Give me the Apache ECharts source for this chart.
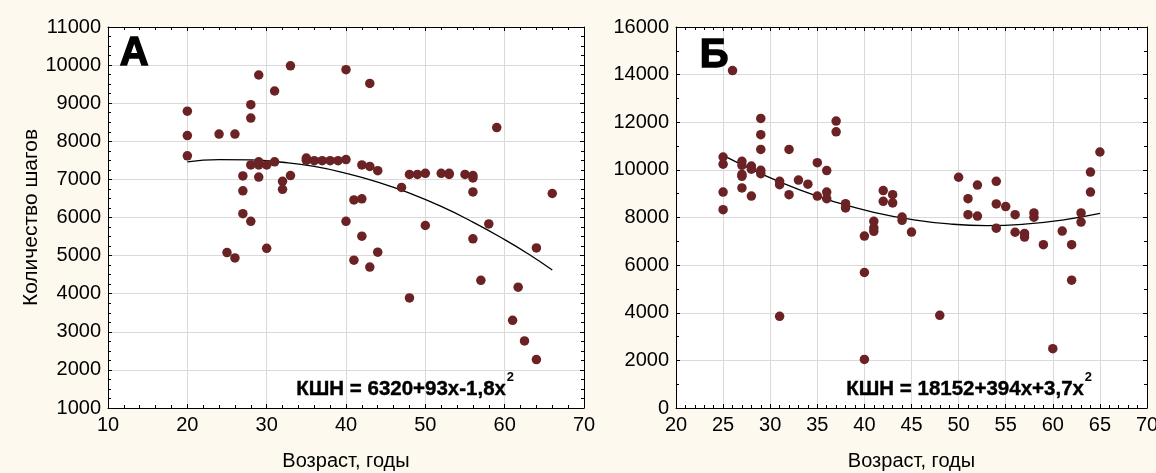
<!DOCTYPE html>
<html>
<head>
<meta charset="utf-8">
<script src="https://cdn.jsdelivr.net/npm/echarts@6/dist/echarts.min.js"></script>
<style>
  html, body { margin: 0; padding: 0; background: #fdf9ee; }
  #chart { width: 1156px; height: 473px; }
</style>
</head>
<body>
<div id="chart"></div>
<script>
// Panel А: age (years) vs daily step count
const agesA = [20, 20, 20, 24, 26, 29, 28, 28, 33, 31, 40, 28, 29, 29, 30, 31, 27, 29, 33, 32,
  32, 27, 27, 28, 40, 35, 35, 36, 37, 38, 39, 40, 43, 59, 42, 43, 44, 48, 49, 50,
  52, 53, 53, 55, 56, 56, 56, 47, 41, 42, 66, 25, 26, 30, 50, 58, 56, 64, 42, 41,
  44, 43, 48, 57, 61.7, 61, 62.5, 64];
const stepsA = [8790, 8150, 7620, 8190, 8190, 9740, 8960, 8610, 9980, 9320, 9880, 7380, 7380, 7460, 7380, 7460, 7090, 7060, 7100, 6950,
  6740, 6700, 6100, 5900, 5900, 7560, 7500, 7490, 7490, 7490, 7490, 7520, 9520, 8360, 7380, 7340, 7230, 7130, 7130, 7160,
  7160, 7160, 7130, 7130, 7100, 7040, 6670, 6790, 6460, 6490, 6630, 5080, 4940, 5190, 5790, 5830, 5440, 5200, 5510, 4880,
  5090, 4700, 3890, 4350, 4170, 3300, 2760, 2270];
// Fitted trend for panel А (КШН = 6320+93x-1,8x²), sampled along the curve
const fitAgesA = [20, 24, 28, 32, 36, 40, 44, 48, 52, 56, 60, 63, 66];
const fitStepsA = [7460, 7520, 7510, 7450, 7340, 7160, 6930, 6640, 6290, 5880, 5420, 5040, 4620];

// Panel Б
const agesB = [26, 29, 29, 29, 29, 29, 25, 25, 25, 25, 27, 27, 27, 27, 27, 28, 28, 28, 32, 31,
  31, 32, 33, 34, 35, 35, 36, 36, 36, 37, 37, 38, 38, 42, 42, 43, 43, 44, 44, 45,
  41, 41, 41, 40, 40, 40, 31, 50, 52, 54, 51, 54, 55, 65, 64, 64, 51, 52, 56, 58,
  58, 63, 63, 54, 56, 57, 57, 59, 61, 62, 62, 48, 60];
const stepsB = [14170, 12160, 11480, 10860, 9980, 9840, 10540, 10240, 9070, 8330, 10360, 10190, 9810, 9730, 9240, 10160, 10030, 8900, 10860, 9520,
  9380, 8960, 9570, 9400, 10300, 8900, 9970, 9070, 8790, 12050, 11600, 8580, 8400, 9130, 8680, 8960, 8610, 8020, 7880, 7390,
  7840, 7560, 7420, 7220, 5690, 2040, 3850, 9690, 9360, 9520, 8790, 8570, 8460, 10750, 9910, 9070, 8120, 8060, 8120, 8190,
  8010, 8190, 7810, 7550, 7380, 7330, 7180, 6860, 7430, 6860, 5370, 3890, 2490];
const fitAgesB = [25, 29, 33, 37, 41, 45, 49, 53, 57, 61, 65];
const fitStepsB = [10610, 9840, 9180, 8640, 8220, 7920, 7730, 7660, 7720, 7890, 8170];

const panelLetters = ['А', 'Б'];
const equationsMain = ['КШН = 6320+93x-1,8x', 'КШН = 18152+394x+3,7x'];
const equationPower = '2';
const xTitle = 'Возраст, годы';
const yTitle = 'Количество шагов';

const FONT = '"Liberation Sans", Arial, sans-serif';
const INK = '#000';
const DOT = '#6b2224';
const GRIDLINE = '#dadada';

const zip = (xs, ys) => xs.map((x, i) => [x, ys[i]]);
const plain = v => String(v);

function mainAxis(gridIndex, pos, min, max, interval, minorSplit, extra) {
  return Object.assign({
    type: 'value', gridIndex, position: pos, min, max, interval,
    axisLine: { show: true, onZero: false, lineStyle: { color: INK, width: 1 } },
    axisTick: { show: true, inside: true, length: 4, lineStyle: { color: INK } },
    minorTick: { show: true, splitNumber: minorSplit, length: 3, lineStyle: { color: INK } },
    splitLine: { show: true, lineStyle: { color: GRIDLINE, width: 1 } },
    axisLabel: {
      color: INK, fontSize: 20, fontFamily: FONT, margin: 7, formatter: plain,
      showMinLabel: true, showMaxLabel: true, hideOverlap: false,
    },
  }, extra || {});
}
function frameAxis(gridIndex, pos, min, max, interval, minorSplit) {
  return {
    type: 'value', gridIndex, position: pos, min, max, interval,
    axisLine: { show: true, onZero: false, lineStyle: { color: INK, width: 1 } },
    axisTick: { show: true, inside: true, length: 4, lineStyle: { color: INK } },
    minorTick: { show: true, splitNumber: minorSplit, length: 3, lineStyle: { color: INK } },
    splitLine: { show: false },
    axisLabel: { show: false },
  };
}
const xName = {
  name: xTitle, nameLocation: 'middle', nameGap: 43,
  nameTextStyle: { color: INK, fontSize: 20, fontFamily: FONT },
};

const grids = [
  { left: 108, right: 572, top: 27, bottom: 65 },
  { left: 676, right: 9, top: 27, bottom: 65 },
].map(g => Object.assign(g, { show: true, backgroundColor: '#ffffff', borderWidth: 0, containLabel: false, outerBoundsMode: 'none' }));

const xAxes = [
  mainAxis(0, 'bottom', 10, 70, 10, 5, xName),
  frameAxis(0, 'top', 10, 70, 10, 5),
  mainAxis(1, 'bottom', 20, 70, 5, 5, xName),
  frameAxis(1, 'top', 20, 70, 5, 5),
];
const yAxes = [
  mainAxis(0, 'left', 1000, 11000, 1000, 4, {
    name: yTitle, nameLocation: 'middle', nameGap: 66,
    nameTextStyle: { color: INK, fontSize: 21, fontFamily: FONT },
  }),
  frameAxis(0, 'right', 1000, 11000, 1000, 4),
  mainAxis(1, 'left', 0, 16000, 2000, 2),
  frameAxis(1, 'right', 0, 16000, 2000, 2),
];

function fitSeries(xIdx, yIdx, xs, ys) {
  return {
    type: 'line', xAxisIndex: xIdx, yAxisIndex: yIdx, data: zip(xs, ys),
    smooth: true, showSymbol: false, symbol: 'none', silent: true, z: 2,
    lineStyle: { color: INK, width: 1.3 },
  };
}
function dotSeries(xIdx, yIdx, xs, ys) {
  return {
    type: 'scatter', xAxisIndex: xIdx, yAxisIndex: yIdx, data: zip(xs, ys),
    symbol: 'circle', symbolSize: 9.5, z: 3,
    itemStyle: { color: DOT, opacity: 1 },
  };
}

// Equation labels: main text plus a raised exponent placed after it
const eqFont = 'bold 20.5px ' + FONT;
const measureCtx = document.createElement('canvas').getContext('2d');
measureCtx.font = eqFont;
const eqLeft = [296, 846];
const eqGraphics = [];
equationsMain.forEach((txt, i) => {
  const w = measureCtx.measureText(txt).width;
  eqGraphics.push({
    type: 'text', left: eqLeft[i], top: 379, z: 10,
    style: { text: txt, font: eqFont, fill: INK, stroke: INK, lineWidth: 0.4 },
  });
  eqGraphics.push({
    type: 'text', left: eqLeft[i] + w + 1, top: 371, z: 10,
    style: { text: equationPower, font: 'bold 13px ' + FONT, fill: INK },
  });
});

const letterPos = [[119, 33], [699, 35]];
const letterGraphics = panelLetters.map((t, i) => ({
  type: 'text', left: letterPos[i][0], top: letterPos[i][1], z: 10,
  style: { text: t, font: 'bold 40px ' + FONT, fill: INK, stroke: INK, lineWidth: 1.4 },
}));

const chart = echarts.init(document.getElementById('chart'), null, { renderer: 'canvas' });
chart.setOption({
  backgroundColor: '#fdf9ee',
  animation: false,
  grid: grids,
  xAxis: xAxes,
  yAxis: yAxes,
  series: [
    fitSeries(0, 0, fitAgesA, fitStepsA),
    dotSeries(0, 0, agesA, stepsA),
    fitSeries(2, 2, fitAgesB, fitStepsB),
    dotSeries(2, 2, agesB, stepsB),
  ],
  graphic: letterGraphics.concat(eqGraphics),
});
</script>
</body>
</html>
